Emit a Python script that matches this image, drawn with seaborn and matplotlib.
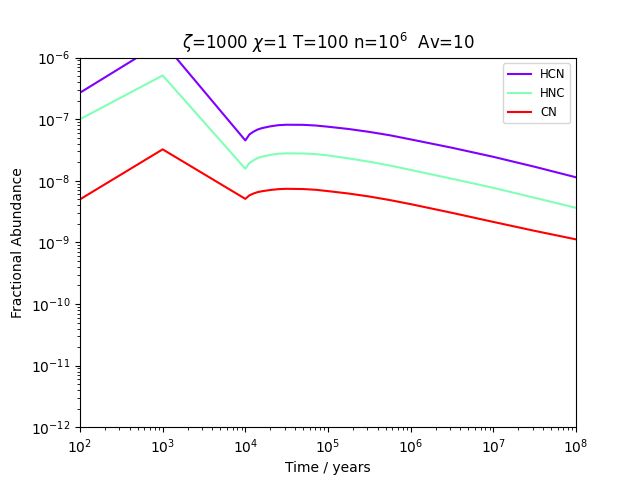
import numpy as np
import pandas as pd
import matplotlib
matplotlib.use("Agg")
import matplotlib.pyplot as plt
import seaborn as sns


# time grid (years) and abundances
time = [1e2, 1e3, 1e4, 1.12e4, 1.26e4, 1.41e4, 1.58e4, 2e4, 2.51e4, 3.16e4,
        5e4, 7.08e4, 1e5, 1.78e5, 3.16e5, 5.62e5, 1e6, 3.16e6, 1e7,
        3.16e7, 1e8]

hcn = [2.69e-7, 1.80e-6, 4.52e-8, 5.65e-8, 6.30e-8, 6.80e-8, 7.15e-8,
       7.65e-8, 8.00e-8, 8.13e-8, 8.10e-8, 7.90e-8, 7.55e-8, 6.93e-8,
       6.22e-8, 5.48e-8, 4.70e-8, 3.44e-8, 2.45e-8, 1.69e-8, 1.14e-8]
hnc = [1.00e-7, 5.13e-7, 1.57e-8, 1.94e-8, 2.16e-8, 2.34e-8, 2.46e-8,
       2.63e-8, 2.75e-8, 2.79e-8, 2.78e-8, 2.71e-8, 2.58e-8, 2.31e-8,
       2.04e-8, 1.77e-8, 1.50e-8, 1.08e-8, 7.69e-9, 5.30e-9, 3.64e-9]
cn = [5.00e-9, 3.24e-8, 5.09e-9, 5.81e-9, 6.23e-9, 6.55e-9, 6.76e-9,
      7.09e-9, 7.32e-9, 7.41e-9, 7.35e-9, 7.15e-9, 6.80e-9, 6.21e-9,
      5.56e-9, 4.86e-9, 4.18e-9, 3.02e-9, 2.15e-9, 1.54e-9, 1.12e-9]

species = ["HCN", "HNC", "CN"]

df = pd.DataFrame({
    "time": time * 3,
    "abundance": hcn + hnc + cn,
    "species": [s for s in species for _ in time],
})

cmap = plt.get_cmap("rainbow")
palette = [cmap(0.0), cmap(0.5), cmap(1.0)]

fig, ax = plt.subplots(figsize=(6.4, 4.8), dpi=100)
sns.lineplot(data=df, x="time", y="abundance", hue="species",
             hue_order=species, palette=palette, linewidth=1.5, ax=ax)

ax.set_xscale("log")
ax.set_yscale("log")
ax.set_xlim(1e2, 1e8)
ax.set_ylim(1e-12, 1e-6)
ax.set_xlabel("Time / years")
ax.set_ylabel("Fractional Abundance")
ax.set_title(r"$\zeta$=1000 $\chi$=1 T=100 n=$10^6$  Av=10")
ax.legend(loc="upper right", fontsize="small")

plt.savefig("out.png")
